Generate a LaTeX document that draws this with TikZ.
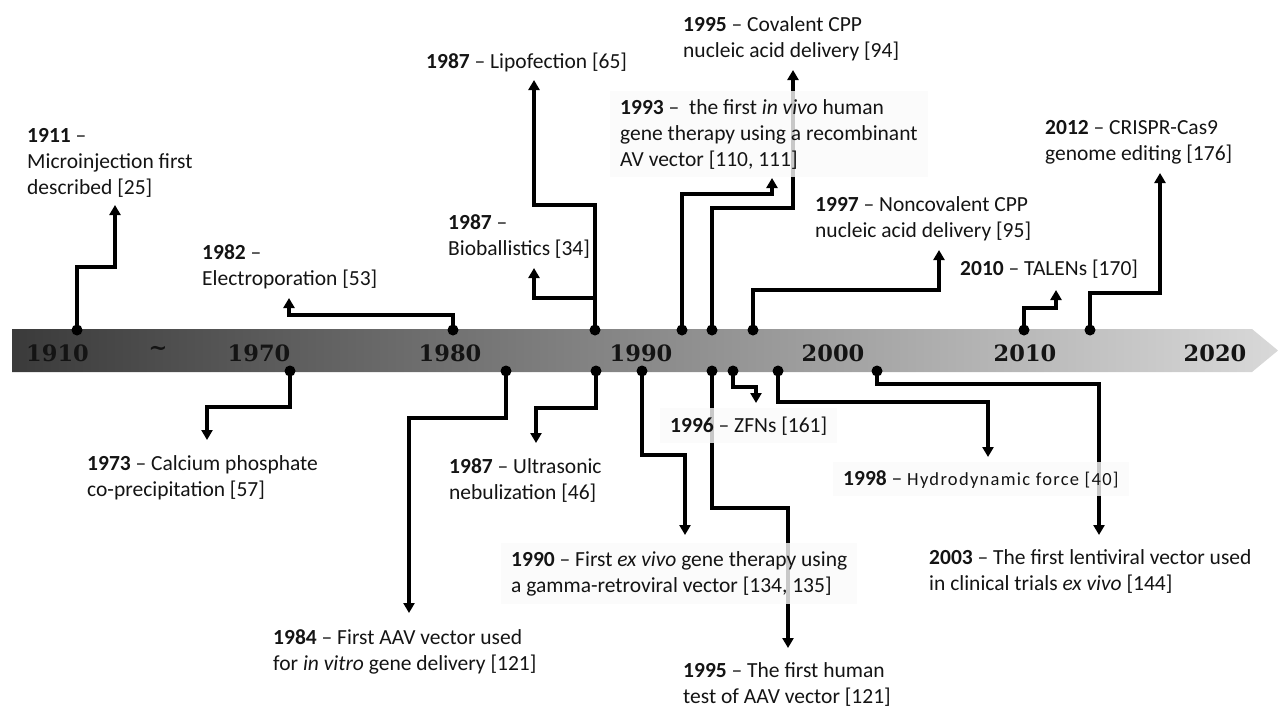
\documentclass[tikz,border=0pt]{standalone}
\usepackage{fontspec}
\setmainfont{Carlito}
\newfontfamily\yearfont{DejaVu Serif}
\newfontfamily\widefont[LetterSpace=7]{Carlito}
\usetikzlibrary{arrows.meta}
\begin{document}
\begin{tikzpicture}[x=1pt,y=-1pt,
  conn/.style={line width=3.4pt,-{Triangle[length=10pt,width=11pt]}},
  dot/.style={circle,fill=black,minimum size=11pt,inner sep=0pt},
  lab/.style={anchor=base west,align=left,inner sep=0pt,font=\fontsize{21.5}{26}\selectfont,text=black!92},
  veil/.style={fill=white!98!black,fill opacity=0.8,text opacity=1,inner xsep=10pt,inner ysep=8pt},
  yr/.style={font=\yearfont\bfseries\fontsize{22.5}{26}\selectfont,text=black!92,inner sep=0pt}
]
\useasboundingbox (0,0) rectangle (1278,707);
% timeline band
\shade[left color=black!77,middle color=black!46,right color=black!15]
  (12,329) -- (1252,329) -- (1278,350.5) -- (1252,372) -- (12,372) -- cycle;
\node[yr] (y1910) at (57.5,353) {1910};
\node[yr] (ytilde) at (158,351) {\textasciitilde};
\node[yr] (y1970) at (259,353) {1970};
\node[yr] (y1980) at (450,353) {1980};
\node[yr] (y1990) at (641,353) {1990};
\node[yr] (y2000) at (833,353) {2000};
\node[yr] (y2010) at (1025,353) {2010};
\node[yr] (y2020) at (1215,353) {2020};

% dots
\node[dot] (d1911) at (77,330) {};
\node[dot] (d1982) at (453,330) {};
\node[dot] (d1987) at (595,330) {};
\node[dot] (d1993) at (682,330) {};
\node[dot] (d1995) at (712,330) {};
\node[dot] (d1997) at (753,330) {};
\node[dot] (d2010) at (1024,330) {};
\node[dot] (d2012) at (1090,330) {};
\node[dot] (d1973) at (290,371) {};
\node[dot] (d1984) at (506,371) {};
\node[dot] (d1987u) at (596,371) {};
\node[dot] (d1990) at (642,371) {};
\node[dot] (d1995b) at (712,371) {};
\node[dot] (d1996) at (733,371) {};
\node[dot] (d1998) at (778,371) {};
\node[dot] (d2003) at (877,371) {};

% arrow tips
\coordinate (t1911) at (115,205);
\coordinate (t1982) at (289,298);
\coordinate (tlipo) at (534,80);
\coordinate (tbio) at (534,268);
\coordinate (t1993) at (772,178);
\coordinate (t1995) at (793,70);
\coordinate (t1997) at (939,250);
\coordinate (t2010) at (1056,290);
\coordinate (t2012) at (1160,173);
\coordinate (t1973) at (207,440);
\coordinate (t1984) at (409,613);
\coordinate (t1987u) at (536,443);
\coordinate (t1990) at (685,535);
\coordinate (t1995b) at (788,648);
\coordinate (t1996) at (756,403);
\coordinate (t1998) at (988,457);
\coordinate (t2003) at (1099,535);

% connectors
\draw[conn] (d1911.center) -- ++(0,-63) -| (t1911);
\draw[conn] (d1982.center) -- ++(0,-15) -| (t1982);
\draw[conn] (d1987.center) -- ++(0,-125) -| (tlipo);
\path (d1987.center) ++(0,-32) coordinate (b1987);
\draw[conn] (b1987) -| (tbio);
\draw[conn] (d1993.center) -- ++(0,-136) -| (t1993);
\draw[conn] (d1995.center) -- ++(0,-122) -| (t1995);
\draw[conn] (d1997.center) -- ++(0,-40) -| (t1997);
\draw[conn] (d2010.center) -- ++(0,-22) -| (t2010);
\draw[conn] (d2012.center) -- ++(0,-37) -| (t2012);
\draw[conn] (d1973.center) -- ++(0,36) -| (t1973);
\draw[conn] (d1984.center) -- ++(0,47) -| (t1984);
\draw[conn] (d1987u.center) -- ++(0,37) -| (t1987u);
\draw[conn] (d1990.center) -- ++(0,84) -| (t1990);
\draw[conn] (d1995b.center) -- ++(0,137) -| (t1995b);
\draw[conn] (d1996.center) -- ++(0,16) -| (t1996);
\draw[conn] (d1998.center) -- ++(0,31) -| (t1998);
\draw[conn] (d2003.center) -- ++(0,13) -| (t2003);

% labels (anchor = baseline of last line)
\node[lab] (l1911) at (27,194) {\textbf{1911} --\\Microinjection first\\described [25]};
\node[lab] (l1982) at (202,285) {\textbf{1982} --\\Electroporation [53]};
\node[lab] (llipo) at (426,68) {\textbf{1987} -- Lipofection [65]};
\node[lab] (lbio) at (448,255) {\textbf{1987} --\\Bioballistics [34]};
\node[lab] (l1995) at (683,57) {\textbf{1995} -- Covalent CPP\\nucleic acid delivery [94]};
\node[lab,veil] (l1993) at (610,166) {\textbf{1993} -- \ the first \textit{in vivo} human\\gene therapy using a recombinant\\AV vector [110, 111]};
\node[lab] (l1997) at (815,237) {\textbf{1997} -- Noncovalent CPP\\nucleic acid delivery [95]};
\node[lab] (l2010) at (960,275) {\textbf{2010} -- TALENs [170]};
\node[lab] (l2012) at (1045,160) {\textbf{2012} -- CRISPR-Cas9\\genome editing [176]};
\node[lab] (l1973) at (87,496) {\textbf{1973} -- Calcium phosphate\\co-precipitation [57]};
\node[lab] (l1987u) at (449,499) {\textbf{1987} -- Ultrasonic\\nebulization [46]};
\node[lab] (l1984) at (273,670) {\textbf{1984} -- First AAV vector used\\for \textit{in vitro} gene delivery [121]};
\node[lab,veil] (l1990) at (501,592) {\textbf{1990} -- First \textit{ex vivo} gene therapy using\\a gamma-retroviral vector [134, 135]};
\node[lab,veil] (l1996) at (660,432) {\textbf{1996} -- ZFNs [161]};
\node[lab,veil] (l1998) at (833,485) {\textbf{1998} -- {\widefont\fontsize{18.5}{20}\selectfont Hydrodynamic force [40]}};
\node[lab] (l2003) at (929,590) {\textbf{2003} -- The first lentiviral vector used\\in clinical trials \textit{ex vivo} [144]};
\node[lab] (l1995b) at (683,703) {\textbf{1995} -- The first human\\test of AAV vector [121]};
\end{tikzpicture}
\end{document}
